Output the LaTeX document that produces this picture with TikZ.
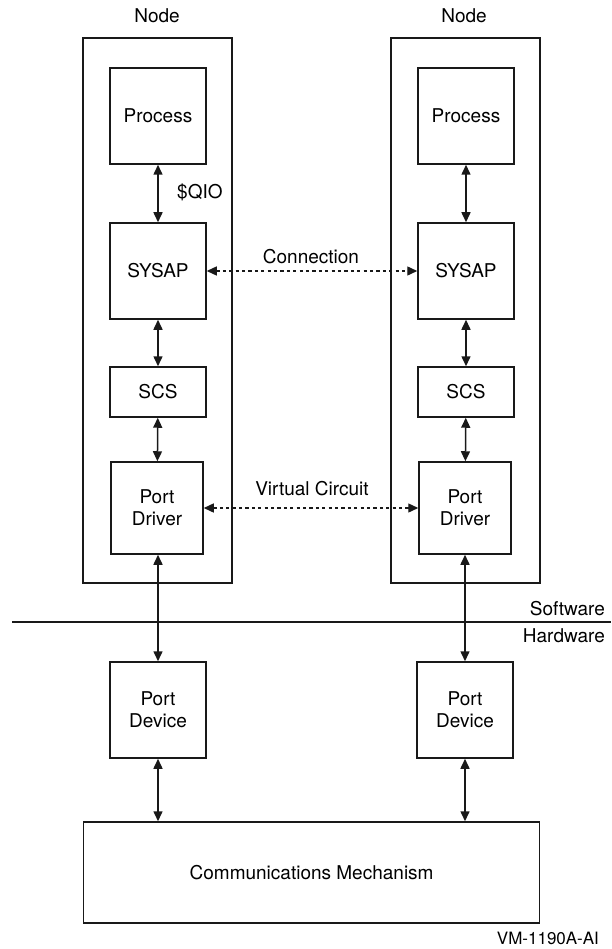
\documentclass[tikz,border=0pt]{standalone}
\usepackage{fontspec}
\setmainfont{TeX Gyre Heros}
\usetikzlibrary{arrows.meta}
\tikzset{
  box/.style={draw=black!90, line width=1.5pt, inner sep=0pt, align=center, font=\fontsize{19}{22}\selectfont},
  outer/.style={draw=black!90, line width=1.5pt, inner sep=0pt},
  lbl/.style={inner sep=0pt, font=\fontsize{19}{22}\selectfont},
  arr/.style={line width=1.5pt, black!90, {Triangle[length=10pt,width=9pt]}-{Triangle[length=10pt,width=9pt]}},
  dots/.style={line width=1.4pt, black!90, dash pattern=on 3.2pt off 3.2pt, {Triangle[length=10pt,width=9pt]}-{Triangle[length=10pt,width=9pt]}}
}
\begin{document}
\begin{tikzpicture}[x=1pt,y=-1pt]
\useasboundingbox (0,0) rectangle (611,949);
% outer node boxes
\node[outer, minimum width=149pt, minimum height=545pt] (outL) at (157.5,310.5) {};
\node[outer, minimum width=149pt, minimum height=545pt] (outR) at (465.5,310.5) {};
\node[lbl] (nodeL) at (157,16) {Node};
\node[lbl] (nodeR) at (464,16) {Node};
% left stack
\node[box, minimum width=96pt, minimum height=96pt] (procL) at (158,116) {Process};
\node[box, minimum width=96pt, minimum height=96pt] (sysL) at (158,271) {SYSAP};
\node[box, minimum width=96pt, minimum height=50pt] (scsL) at (158,392) {SCS};
\node[box, minimum width=92pt, minimum height=92pt] (pdrL) at (157,508) {Port\\Driver};
\node[box, minimum width=96pt, minimum height=96pt] (pdvL) at (158,710) {Port\\Device};
% right stack
\node[box, minimum width=96pt, minimum height=96pt] (procR) at (466,116) {Process};
\node[box, minimum width=96pt, minimum height=96pt] (sysR) at (466,271) {SYSAP};
\node[box, minimum width=96pt, minimum height=50pt] (scsR) at (466,392) {SCS};
\node[box, minimum width=92pt, minimum height=92pt] (pdrR) at (465,508) {Port\\Driver};
\node[box, minimum width=96pt, minimum height=96pt] (pdvR) at (465,710) {Port\\Device};
% communications
\node[box, minimum width=456pt, minimum height=101pt] (comm) at (311.6,872.5) {Communications Mechanism};
% vertical arrows
\draw[arr] (procL) -- (sysL);
\draw[arr] (sysL) -- (scsL);
\draw[arr] (scsL) -- (pdrL);
\draw[arr] (pdvL.north |- pdrL.south) -- (pdvL.north);
\draw[arr] (pdvL.south) -- (pdvL.south |- comm.north);
\draw[arr] (procR) -- (sysR);
\draw[arr] (sysR) -- (scsR);
\draw[arr] (scsR) -- (pdrR);
\draw[arr] (pdvR.north |- pdrR.south) -- (pdvR.north);
\draw[arr] (pdvR.south) -- (pdvR.south |- comm.north);
% dotted
\draw[dots] (sysL.east) -- (sysR.west);
\draw[dots] (pdrL.east) -- (pdrR.west);
\node[lbl] (conn) at (311,257) {Connection};
\node[lbl] (vc) at (312,489) {Virtual Circuit};
\node[lbl, anchor=west] (qio) at (177,192) {\$QIO};
% software / hardware line
\coordinate (lineA) at (12,622);
\coordinate (lineB) at (611,622);
\draw[line width=1.3pt, black!90] (lineA) -- (lineB);
\node[lbl, anchor=east] (sw) at (605,609) {Software};
\node[lbl, anchor=east] (hw) at (605,636) {Hardware};
\node[inner sep=0pt, anchor=east, font=\fontsize{17}{20}\selectfont] (vm) at (599,938) {VM-1190A-AI};
\end{tikzpicture}
\end{document}
